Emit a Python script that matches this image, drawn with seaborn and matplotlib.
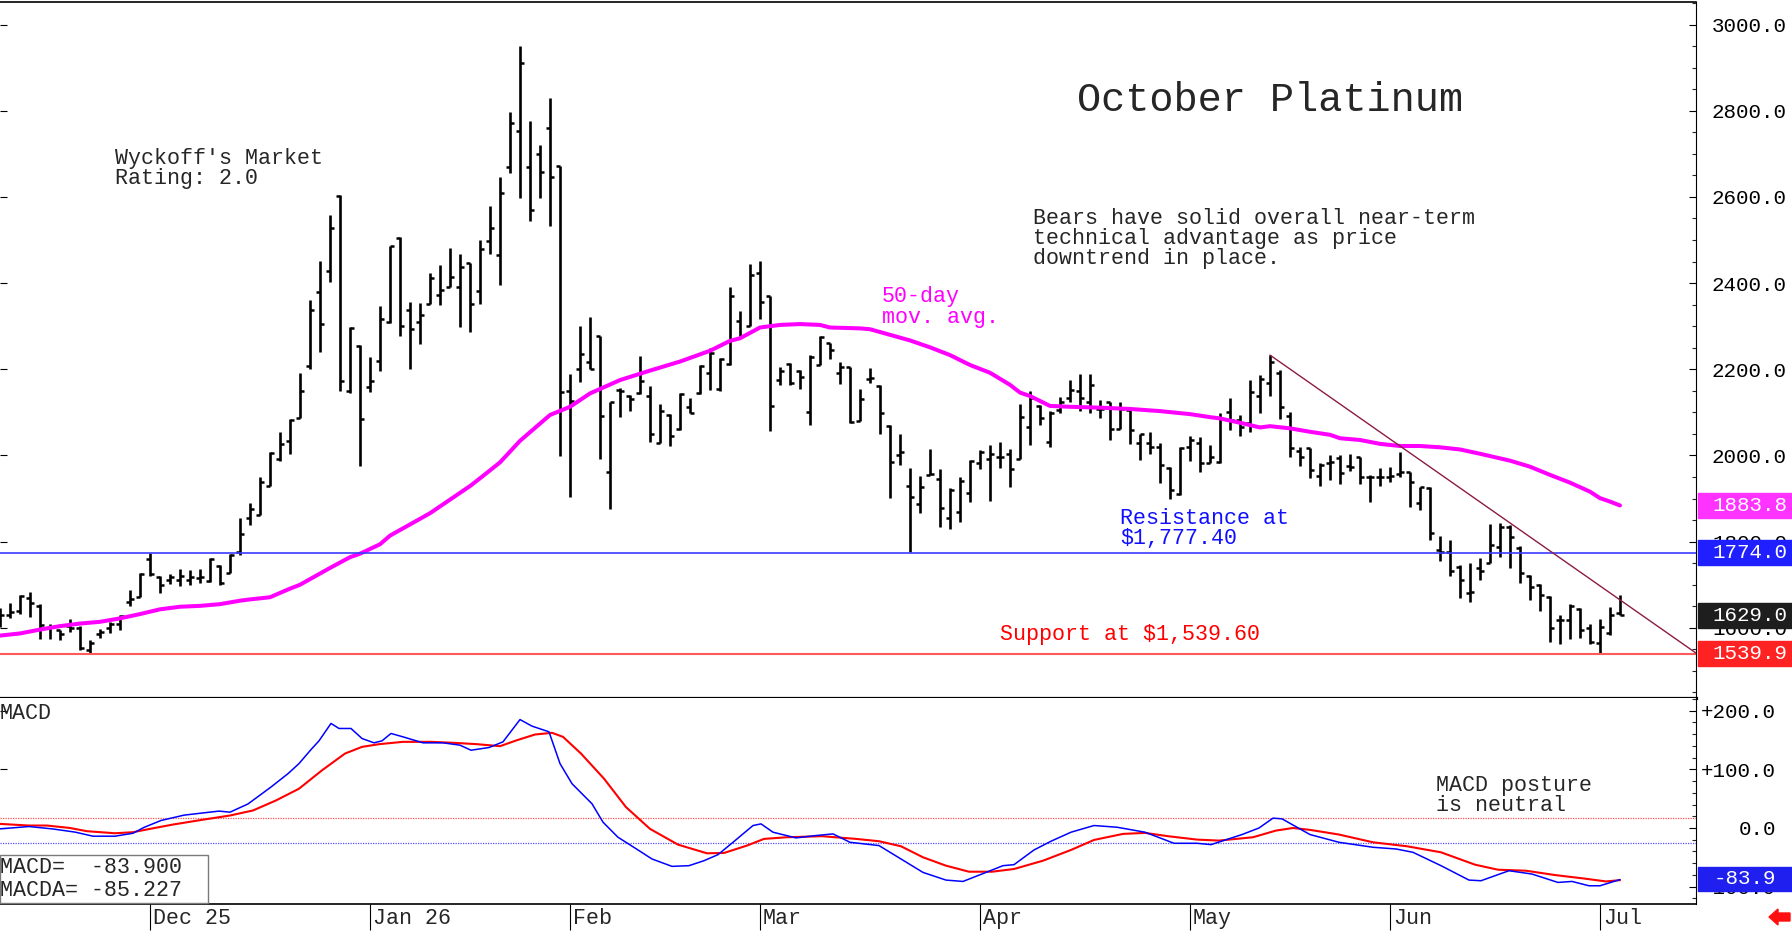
import matplotlib
matplotlib.use("Agg")
import matplotlib.pyplot as plt
import matplotlib.transforms as mtransforms
from matplotlib.patches import Rectangle, Polygon
from matplotlib.ticker import MultipleLocator, FixedLocator, FuncFormatter
import numpy as np
import pandas as pd
import seaborn as sns

########################################
# Data (bar index 0 = 7 Nov 2025)

holidays = ["2025-11-27", "2025-12-25", "2026-01-01", "2026-01-19",
            "2026-02-16", "2026-04-03", "2026-05-25", "2026-06-19"]
month_labels = ["Dec 25", "Jan 26", "Feb", "Mar", "Apr", "May", "Jun", "Jul"]

opens = [1615, 1630, 1640, 1670, 1650, 1600, 1594, 1605, 1600, 1548, 1585, 1600, 1610, 1660, 1672,
         1760, 1717, 1712, 1710, 1712, 1715, 1709, 1743, 1728, 1775, 1855, 1862, 1929, 1993, 2033,
         2086, 2207, 2380, 2427, 2603, 2149, 2254, 2158, 2219, 2309, 2505, 2338, 2309, 2352, 2372,
         2392, 2390, 2447, 2382, 2498, 2465, 2670, 2752, 2670, 2700, 2761, 2672, 2150, 2201, 2218,
         2277, 1962, 2153, 2138, 2144, 2139, 2030, 2094, 2061, 2113, 2144, 2191, 2154, 2212, 2311,
         2301, 2424, 2370, 2175, 2212, 2196, 2102, 2210, 2260, 2192, 2205, 2080, 2177, 2162, 2069,
         2001, 1930, 1887, 1955, 1946, 1856, 1870, 1912, 1983, 1993, 1997, 2003, 1993, 2065, 2116,
         2032, 2106, 2133, 2150, 2125, 2107, 2123, 2061, 2105, 2028, 2030, 2020, 1972, 1910, 2019,
         2030, 1983, 1986, 2102, 2082, 2076, 2138, 2169, 2191, 2092, 2010, 2017, 1952, 1983, 1995,
         1976, 1996, 1951, 1951, 1951, 1956, 1962, 1890, 1925, 1781, 1775, 1742, 1680, 1740, 1751,
         1788, 1835, 1785, 1720, 1700, 1672, 1618, 1618, 1643, 1599, 1564, 1589, 1635]
highs = [1645, 1658, 1676, 1684, 1655, 1609, 1595, 1620, 1604, 1572, 1597, 1614, 1630, 1688, 1727,
         1773, 1720, 1724, 1737, 1734, 1736, 1763, 1746, 1771, 1854, 1890, 1949, 2009, 2055, 2084,
         2192, 2360, 2452, 2558, 2605, 2299, 2257, 2229, 2348, 2487, 2507, 2356, 2354, 2423, 2443,
         2482, 2468, 2447, 2500, 2579, 2647, 2798, 2950, 2777, 2721, 2829, 2672, 2188, 2301, 2321,
         2277, 2123, 2156, 2140, 2231, 2162, 2120, 2096, 2144, 2133, 2210, 2249, 2227, 2392, 2336,
         2444, 2451, 2370, 2206, 2214, 2198, 2233, 2277, 2262, 2218, 2206, 2154, 2202, 2164, 2071,
         2049, 1970, 1952, 2014, 1968, 1924, 1951, 1990, 2013, 2024, 2032, 2015, 2119, 2150, 2117,
         2103, 2136, 2175, 2188, 2188, 2129, 2125, 2125, 2109, 2050, 2055, 2030, 1974, 2019, 2045,
         2044, 2024, 2099, 2133, 2094, 2175, 2187, 2233, 2198, 2102, 2020, 2017, 1982, 2001, 2001,
         2003, 1996, 1955, 1970, 1973, 2009, 1962, 1928, 1928, 1813, 1804, 1746, 1750, 1761, 1841,
         1844, 1839, 1790, 1723, 1701, 1674, 1630, 1655, 1645, 1609, 1620, 1649, 1676]
lows = [1603, 1622, 1632, 1626, 1573, 1573, 1572, 1591, 1549, 1540, 1576, 1587, 1595, 1651, 1671,
        1720, 1682, 1701, 1697, 1699, 1705, 1707, 1699, 1728, 1769, 1839, 1862, 1929, 1988, 2004,
        2086, 2200, 2239, 2403, 2150, 2145, 1976, 2147, 2197, 2307, 2278, 2200, 2258, 2351, 2349,
        2392, 2299, 2287, 2351, 2468, 2396, 2656, 2597, 2545, 2598, 2533, 1999, 1904, 2170, 2201,
        1993, 1875, 2090, 2104, 2142, 2031, 2028, 2023, 2059, 2098, 2143, 2153, 2150, 2210, 2276,
        2301, 2317, 2057, 2164, 2164, 2154, 2071, 2210, 2223, 2166, 2075, 2079, 2169, 2049, 1901,
        1978, 1777, 1866, 1955, 1833, 1829, 1846, 1891, 1968, 1895, 1970, 1928, 1991, 2024, 2071,
        2019, 2098, 2125, 2104, 2099, 2086, 2037, 2061, 2027, 1990, 2003, 1937, 1898, 1908, 1987,
        1962, 1982, 1983, 2058, 2045, 2055, 2099, 2138, 2084, 1996, 1976, 1947, 1929, 1943, 1934,
        1965, 1934, 1893, 1929, 1939, 1949, 1880, 1873, 1805, 1754, 1720, 1669, 1661, 1711, 1750,
        1765, 1738, 1705, 1665, 1638, 1568, 1563, 1574, 1576, 1563, 1539, 1583, 1630]
closes = [1630, 1637, 1673, 1657, 1607, 1602, 1585, 1599, 1553, 1564, 1591, 1610, 1628, 1668, 1725,
          1725, 1700, 1718, 1720, 1719, 1719, 1759, 1703, 1769, 1818, 1876, 1938, 2006, 2027, 2082,
          2150, 2338, 2305, 2527, 2174, 2297, 2084, 2172, 2317, 2486, 2301, 2294, 2325, 2411, 2384,
          2415, 2437, 2351, 2479, 2527, 2608, 2772, 2910, 2570, 2659, 2647, 2147, 2127, 2235, 2201,
          2092, 2123, 2150, 2130, 2174, 2050, 2104, 2046, 2143, 2099, 2208, 2237, 2225, 2370, 2277,
          2420, 2357, 2115, 2197, 2168, 2183, 2229, 2274, 2245, 2206, 2077, 2131, 2179, 2099, 1986,
          2009, 1903, 1928, 1958, 1877, 1920, 1940, 1988, 2009, 2003, 1997, 1968, 2089, 2133, 2086,
          2098, 2125, 2152, 2133, 2164, 2108, 2061, 2109, 2058, 2049, 2019, 1978, 1920, 2017, 2037,
          1983, 1997, 2084, 2082, 2065, 2148, 2177, 2218, 2113, 2017, 1997, 1966, 1978, 1986, 1960,
          1973, 1949, 1951, 1951, 1952, 1962, 1939, 1926, 1821, 1777, 1733, 1710, 1684, 1732, 1792,
          1833, 1810, 1727, 1694, 1676, 1599, 1618, 1651, 1595, 1568, 1601, 1630, 1629]

ma_bar = [0, 2, 4, 6, 8, 10, 12, 14, 16, 18, 20, 22, 24, 25, 27, 29, 30, 33, 35, 36, 38, 39, 43, 47,
          48, 50, 52, 55, 57, 59, 62, 65, 68, 71, 73, 74, 76, 78, 80, 82, 83, 86, 87, 89, 91, 93,
          95, 97, 99, 101, 102, 103, 105, 107, 110, 113, 116, 119, 121, 122, 124, 126, 127, 129,
          131, 133, 134, 136, 138, 140, 142, 144, 146, 148, 151, 153, 155, 157, 159, 160, 161, 162]
ma_value = [1582, 1587, 1596, 1604, 1610, 1614, 1622, 1632, 1643, 1649, 1651, 1655, 1663, 1666, 1671,
            1691, 1700, 1739, 1764, 1772, 1794, 1814, 1866, 1929, 1947, 1984, 2034, 2094, 2113, 2144,
            2175, 2197, 2218, 2243, 2266, 2272, 2297, 2303, 2305, 2303, 2297, 2295, 2293, 2280, 2267,
            2251, 2233, 2210, 2192, 2164, 2146, 2138, 2115, 2113, 2111, 2108, 2103, 2096, 2089, 2086,
            2076, 2065, 2068, 2063, 2055, 2048, 2040, 2036, 2027, 2022, 2022, 2019, 2014, 2004, 1988,
            1974, 1955, 1937, 1916, 1901, 1893, 1884]

macd_bar = [0, 2.9, 5.2, 7.5, 9.3, 11.5, 13.3, 14.4, 16.1, 18.4, 20.1, 21.9, 23, 24.8, 27.1, 28.8,
            29.9, 31.1, 31.9, 33.1, 33.9, 35.1, 36.2, 37.4, 38.2, 39.1, 40.3, 42.3, 44.3, 46, 47.1,
            48.9, 50.3, 52, 53.2, 54.9, 56, 57.2, 59.2, 60.3, 61.8, 63.8, 65.2, 67.2, 68.9, 70.4,
            71.8, 73.3, 75.3, 76.1, 77.3, 79.6, 81.6, 83.3, 85, 87.9, 90.1, 92.3, 94.6, 96.3, 98.6,
            100.3, 101.4, 103.4, 105.1, 107.1, 109.4, 111.7, 114.5, 117.4, 119.7, 121.1, 124.2, 125.9,
            127.3, 128.2, 131, 133.9, 137.3, 139.6, 141.3, 144.1, 146.9, 148.1, 150.9, 153.2, 155.8,
            157.2, 158.9, 160, 162]
macd_value = [-1.5, 2.5, -1.5, -7, -14, -14, -9, 1, 12.8, 21.9, 25.3, 28.8, 27, 41, 69.9, 92.7,
              109.9, 133.8, 148.7, 178.4, 169.8, 169.8, 152.7, 145.3, 148.7, 161.3, 155.5, 145.3,
              145.3, 141.3, 132.7, 137.3, 147, 185, 173.8, 164.1, 109.9, 75.6, 41.3, 9.9, -15.8,
              -37.5, -52.9, -65.5, -64.3, -55.8, -45.5, -24.4, 4.2, 7, -7.2, -16.9, -12.9, -10.1,
              -24.4, -30, -52.9, -75.8, -88.9, -91.2, -75.8, -64.3, -62.6, -37.5, -22.6, -7.2, 4.2,
              1.3, -7.2, -26.1, -26.1, -28.4, -11.2, 0, 16.8, 15.6, -11.2, -24.4, -32.9, -35.8,
              -41.5, -64.3, -88.9, -90, -72.9, -78.6, -92.9, -91.2, -98.6, -98.6, -88]

signal_bar = [0, 2.9, 4.7, 7, 8.7, 11.5, 13.3, 15, 17.3, 20.2, 23, 25.3, 27.6, 29.9, 32.2, 34.5,
              36.2, 37.9, 40.3, 43.1, 45.4, 47.7, 50, 51.7, 53.5, 55.2, 56.3, 58.1, 60.4, 62.6, 65,
              67.8, 70.7, 72.4, 74.7, 76.4, 78.7, 82.2, 85.6, 87.9, 90.1, 92.3, 94.6, 96.9, 99.2,
              101.4, 104.3, 107.1, 109.4, 112.3, 114.5, 116.8, 119.7, 121.9, 125.3, 127.6, 129.3,
              131, 133.9, 137.3, 140.7, 144.1, 147.5, 149.8, 152.6, 155.5, 158.3, 160.6, 162]
signal_value = [7, 4.2, 4.2, 0, -5.5, -9, -7.2, -1.5, 5.9, 13.9, 21.3, 29.9, 47, 67, 98.4, 127,
                138.4, 143, 147, 147, 145.3, 143, 139.6, 149.8, 159.5, 162.4, 155.5, 127, 84.2, 35.6,
                -1.5, -28.4, -43.2, -42.6, -30, -18.6, -15.8, -14, -18.6, -22.6, -31.2, -50, -64.3,
                -74.6, -74.6, -70, -55.8, -37.5, -20.4, -10.1, -8.4, -14, -19.8, -21.5, -15.8, -4.4,
                0, -3.2, -11.2, -24.4, -31.2, -41.5, -62.6, -71.2, -72.9, -80.3, -86, -91.2, -89]

resistance = 1774.0
support = 1539.9
ma_last = 1883.8
last_price = 1629.0
trend_bars = [127, 169.7]
trend_prices = [2233, 1539.9]
macd_upper, macd_lower = 17.4, -25.6
macd_last, macda_last = -83.900, -85.227

########################################
# Figure layout (pixel based)

W, H = 1792, 934
sns.set_theme(style="white")
plt.rcParams["font.family"] = ["Liberation Mono", "DejaVu Sans Mono"]
FS = 15.6

fig = plt.figure(figsize=(W / 100, H / 100), dpi=100)
fig.patch.set_facecolor("white")


def box(left, top, right, bottom):
    return [left / W, 1 - bottom / H, (right - left) / W, (bottom - top) / H]


def fpx(x, y):
    return x / W, 1 - y / H


ax = fig.add_axes(box(0, 2, 1696, 698))
ax2 = fig.add_axes(box(0, 698, 1696, 904), sharex=ax)

dates = pd.bdate_range("2025-11-07", "2026-07-03", freq="C", holidays=holidays)
x = np.arange(len(closes))
month_starts = [i for i in range(1, len(dates)) if dates[i].month != dates[i - 1].month]

########################################
# Price panel

ax.vlines(x, lows, highs, color="black", lw=1.9)
ax.hlines(opens, x - 0.42, x, color="black", lw=1.8)
ax.hlines(closes, x, x + 0.42, color="black", lw=1.8)
sns.lineplot(x=ma_bar, y=ma_value, color="#ff00ff", lw=2.9, ax=ax, estimator=None, sort=False)
ax.axhline(resistance, color="#3b3bff", lw=1.2)
ax.axhline(support, color="#ff5a5a", lw=1.5)
ax.plot(trend_bars, trend_prices, color="#8b1c44", lw=1.0)

ax.set_xlim(0, 169.6)
ax.set_ylim(1437.2, 3052.4)
ax.yaxis.set_major_locator(MultipleLocator(200))
ax.yaxis.set_minor_locator(MultipleLocator(50))
ax.yaxis.set_major_formatter(FuncFormatter(lambda v, p: f"{v:.1f}"))
ax.yaxis.set_ticks_position("both")
ax.tick_params(axis="y", which="major", right=True, left=True, labelright=True, labelleft=False,
               direction="in", length=5, width=0.8, pad=11.5, labelsize=15, colors="black")
ax.tick_params(axis="y", which="minor", right=True, left=False, direction="in", length=3, width=0.8)
ax.tick_params(axis="x", bottom=False, labelbottom=False)
ax.spines["left"].set_visible(False)
ax.spines["top"].set_linewidth(1.2)
ax.spines["right"].set_linewidth(0.8)
ax.spines["bottom"].set_linewidth(2.3)
for s in ax.spines.values():
    s.set_color("black")
ax.set_xlabel("")
ax.set_ylabel("")

# value boxes on the right axis
blend = mtransforms.blended_transform_factory(ax.transAxes, ax.transData)
unit_px = 696 / (3052.4 - 1437.2)
for val, col in [(ma_last, "#ff33ff"), (resistance, "#1f1fff"), (last_price, "#1e1e1e"),
                 (support, "#ff2222")]:
    h = 25 / unit_px
    ax.add_patch(Rectangle((1698 / 1696, val - h / 2), 94 / 1696, h, transform=blend,
                           color=col, clip_on=False, zorder=5))
    ax.text(1712 / 1696, val, f"{val:.1f}", transform=blend, color="white", fontsize=15,
            va="center", ha="left", zorder=6, clip_on=False)

########################################
# MACD panel

ax2.axhline(macd_upper, color="#ff5050", lw=0.9, ls=(0, (1, 1)))
ax2.axhline(macd_lower, color="#5050ff", lw=0.9, ls=(0, (1, 1)))
sns.lineplot(x=signal_bar, y=signal_value, color="#ff0000", lw=1.5, ax=ax2, estimator=None, sort=False)
sns.lineplot(x=macd_bar, y=macd_value, color="#0000ff", lw=1.1, ax=ax2, estimator=None, sort=False)
ax2.set_ylim(-129.7, 221.8)
ax2.yaxis.set_major_locator(FixedLocator([200, 100, 0, -100]))
ax2.yaxis.set_minor_locator(MultipleLocator(20))
ax2.yaxis.set_major_formatter(FuncFormatter(lambda v, p: "0.0" if v == 0 else f"{v:+.1f}"))
ax2.yaxis.set_ticks_position("both")
ax2.tick_params(axis="y", which="major", right=True, left=True, labelright=True, labelleft=False,
                direction="in", length=5, width=0.8, pad=57.6, labelsize=15, colors="black")
ax2.tick_params(axis="y", which="minor", right=True, left=False, direction="in", length=3, width=0.8)
for lab in ax2.get_yticklabels():
    lab.set_horizontalalignment("right")
ax2.set_xticks(month_starts)
ax2.tick_params(axis="x", which="major", bottom=True, direction="out", length=19, width=0.8,
                labelbottom=False, colors="black")
ax2.spines["left"].set_visible(False)
ax2.spines["top"].set_visible(False)
ax2.spines["right"].set_linewidth(0.8)
ax2.spines["bottom"].set_linewidth(1.2)
for s in ax2.spines.values():
    s.set_color("black")
ax2.set_xlabel("")
ax2.set_ylabel("")

for idx, lab in zip(month_starts, month_labels):
    ax2.annotate(lab, xy=(idx, 0), xycoords=("data", "axes fraction"), xytext=(2.2, -2.6),
                 textcoords="offset points", ha="left", va="top", fontsize=FS,
                 annotation_clip=False)

blend2 = mtransforms.blended_transform_factory(ax2.transAxes, ax2.transData)
unit2_px = 206 / (221.8 + 129.7)
h2 = 24 / unit2_px
ax2.add_patch(Rectangle((1698 / 1696, macd_last - h2 / 2 - 3), 94 / 1696, h2, transform=blend2,
                        color="#1f1fef", clip_on=False, zorder=5))
ax2.text(1776 / 1696, macd_last - 3, f"{macd_last:.1f}", transform=blend2, color="white",
         fontsize=15, va="center", ha="right", zorder=6, clip_on=False)

########################################
# Text annotations

fig.text(*fpx(1077, 81), "October Platinum", fontsize=29, va="top", ha="left")
fig.text(*fpx(115, 148), "Wyckoff's Market\nRating: 2.0", fontsize=FS, va="top", ha="left",
         linespacing=0.95)
fig.text(*fpx(1033, 208), "Bears have solid overall near-term\ntechnical advantage as price\n"
         "downtrend in place.", fontsize=FS, va="top", ha="left", linespacing=0.95)
fig.text(*fpx(882, 286), "50-day\nmov. avg.", fontsize=FS, va="top", ha="left", color="#ff00ff",
         linespacing=0.98)
fig.text(*fpx(1120, 508), "Resistance at\n$1,777.40", fontsize=FS, va="top", ha="left",
         color="#1010ff", linespacing=0.95)
fig.text(*fpx(1000, 624), "Support at $1,539.60", fontsize=FS, va="top", ha="left", color="#ff0000")
fig.text(*fpx(0, 703), "MACD", fontsize=FS, va="top", ha="left")
fig.text(*fpx(1436, 775), "MACD posture\nis neutral", fontsize=FS, va="top", ha="left",
         linespacing=0.92)

fig.add_artist(Rectangle(fpx(0, 903), 208 / W, 48 / H, transform=fig.transFigure,
                         facecolor="white", edgecolor="#7a7a7a", lw=1.0, zorder=8))
fig.text(*fpx(0, 857), f"MACD=  {macd_last:.3f}\nMACDA= {macda_last:.3f}", fontsize=FS,
         va="top", ha="left", linespacing=1.14, zorder=9)

arrow = [(1769, 917), (1778, 909), (1778, 913), (1790, 913), (1790, 921), (1778, 921), (1778, 925)]
fig.add_artist(Polygon([fpx(px, py) for px, py in arrow], closed=True, transform=fig.transFigure,
                       color="#ff1010", zorder=9))

fig.savefig("out.png", dpi=100, facecolor="white")
